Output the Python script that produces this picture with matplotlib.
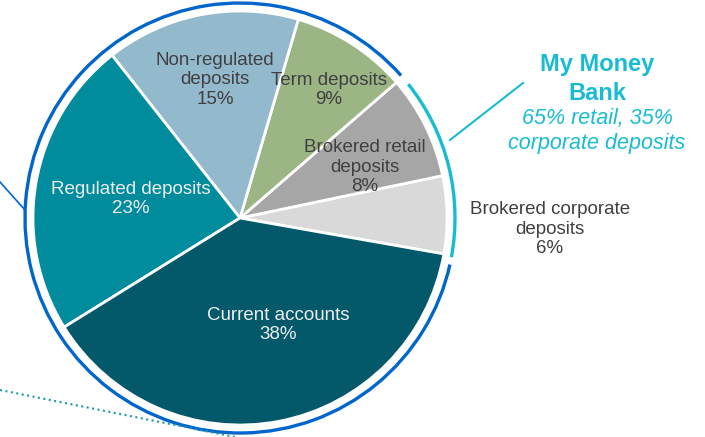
import matplotlib.pyplot as plt
from matplotlib.patches import Arc

plt.rcParams['font.family'] = ['Liberation Sans', 'DejaVu Sans']

# data
categories = ['Brokered corporate\ndeposits', 'Brokered retail\ndeposits', 'Term deposits',
              'Non-regulated\ndeposits', 'Regulated deposits', 'Current accounts']
shares = [6, 8, 9, 15, 23, 38]
colors = ['#D9D9D9', '#A6A6A6', '#9BB585', '#93B9CD', '#008C9D', '#03596A']
text_colors = ['#404040', '#404040', '#404040', '#404040', '#EEEEEE', '#EEEEEE']

W, H = 705, 437
fig = plt.figure(figsize=(W / 100, H / 100), dpi=100)
ax = fig.add_axes([0, 0, 1, 1])

def py(y):
    # pixel row -> data y
    return H - y

cx, cy = 240, py(218)
wedges, _ = ax.pie(shares, colors=colors, startangle=-10, counterclock=True,
                   center=(cx, cy), radius=207,
                   wedgeprops=dict(edgecolor='white', linewidth=2))
ax.set_xlim(0, W)
ax.set_ylim(0, H)
ax.set_aspect('equal')
ax.axis('off')

# label positions (pixel coords of text centre)
label_pos = [(550, 229), (365, 167), (329, 90), (215, 80), (131, 199), (278, 325)]
for cat, s, tc, (x, y) in zip(categories, shares, text_colors, label_pos):
    ax.text(x, py(y), f'{cat}\n{s}%', ha='center', va='center', color=tc,
            fontsize=13.5, linespacing=1.2)

# outer rings
ax.add_patch(Arc((cx, cy), 430, 430, theta1=41.5, theta2=347.5, color='#0066CC', lw=2.4))
ax.add_patch(Arc((cx, cy), 430, 430, theta1=-10.5, theta2=38.5, color='#17BCD3', lw=2.4))

# connector lines
ax.plot([0, 25], [py(182), py(210)], color='#0066CC', lw=1.2)
ax.plot([450, 523], [py(140), py(83)], color='#17BCD3', lw=1.5)
ax.plot([0, 235], [py(390), py(437)], color='#1E9AAA', lw=1.5, ls=':')

ax.text(597, py(79), 'My Money\nBank', ha='center', va='center', color='#17BCD3',
        fontsize=17, fontweight='bold', linespacing=1.35)
ax.text(597, py(131), '65% retail, 35%\ncorporate deposits', ha='center', va='center',
        color='#17BCD3', fontsize=15.5, fontstyle='italic', linespacing=1.22)

fig.savefig('out.png', dpi=100)
